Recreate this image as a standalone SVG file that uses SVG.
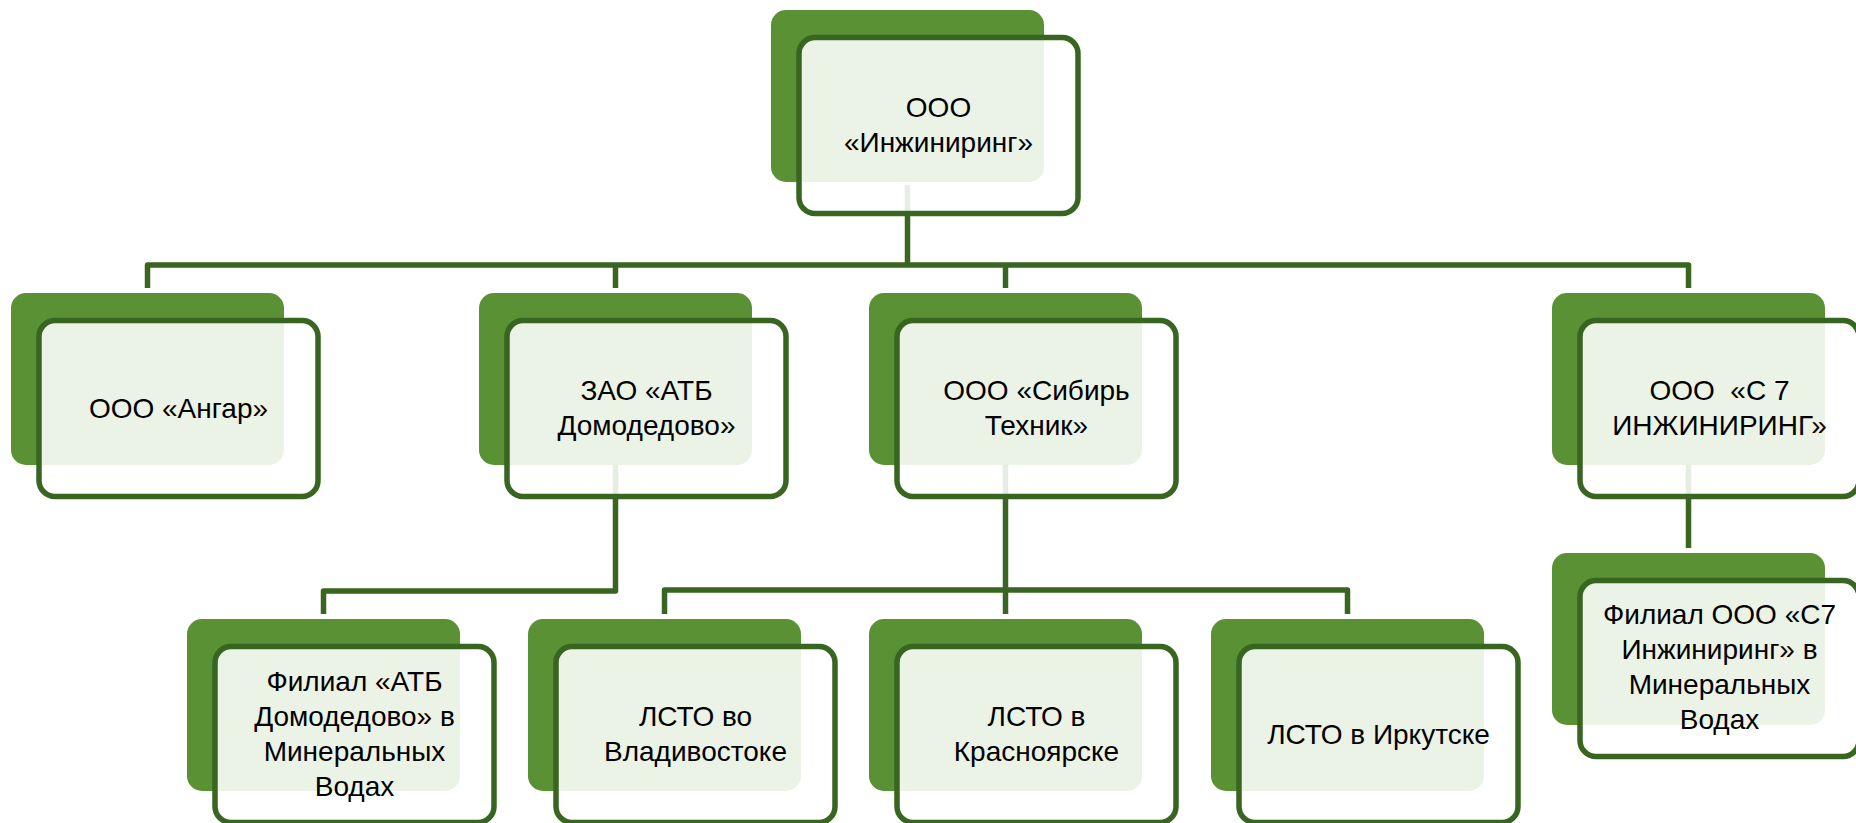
<svg xmlns="http://www.w3.org/2000/svg" width="1856" height="823" viewBox="0 0 1856 823">
<style>
.bg{fill:#5A9134}
.fr{fill:#FFFFFF;fill-opacity:0.88;stroke:#386621;stroke-width:5.5}
.t{font-family:"Liberation Sans",Arial,sans-serif;font-size:28px;fill:#000;text-anchor:middle}
.c{fill:none;stroke:#386621;stroke-width:5.5;stroke-linejoin:round}
</style>
<rect width="1856" height="823" fill="#FFFFFF"/>
<g id="connectors">
<path class="c" d="M907.5 185 V265"/>
<path class="c" d="M147.5 288 V265 H1688.5 V288"/>
<path class="c" d="M615.5 265 V288"/>
<path class="c" d="M1005.5 265 V288"/>
<path class="c" d="M615.5 465 V591 H323.5 V614"/>
<path class="c" d="M1005.5 465 V614"/>
<path class="c" d="M664.5 614 V590 H1347.5 V614"/>
<path class="c" d="M1688.5 465 V548"/>
</g>
<g id="n0">
<rect class="bg" x="771" y="10" width="273" height="172" rx="15"/>
<rect class="fr" x="799" y="37.5" width="279" height="176" rx="16"/>
<text class="t" x="938.5" y="117">ООО</text>
<text class="t" x="938.5" y="152">«Инжиниринг»</text>
</g>
<g id="n1">
<rect class="bg" x="11" y="293" width="273" height="172" rx="15"/>
<rect class="fr" x="39" y="320.5" width="279" height="176" rx="16"/>
<text class="t" x="178.5" y="417.5">ООО «Ангар»</text>
</g>
<g id="n2">
<rect class="bg" x="479" y="293" width="273" height="172" rx="15"/>
<rect class="fr" x="507" y="320.5" width="279" height="176" rx="16"/>
<text class="t" x="646.5" y="400">ЗАО «АТБ</text>
<text class="t" x="646.5" y="435">Домодедово»</text>
</g>
<g id="n3">
<rect class="bg" x="869" y="293" width="273" height="172" rx="15"/>
<rect class="fr" x="897" y="320.5" width="279" height="176" rx="16"/>
<text class="t" x="1036.5" y="400">ООО «Сибирь</text>
<text class="t" x="1036.5" y="435">Техник»</text>
</g>
<g id="n4">
<rect class="bg" x="1552" y="293" width="273" height="172" rx="15"/>
<rect class="fr" x="1580" y="320.5" width="279" height="176" rx="16"/>
<text class="t" x="1719.5" y="400" style="white-space:pre" xml:space="preserve">ООО  «С 7</text>
<text class="t" x="1719.5" y="435">ИНЖИНИРИНГ»</text>
</g>
<g id="n5">
<rect class="bg" x="187" y="619" width="273" height="172" rx="15"/>
<rect class="fr" x="215" y="646.5" width="279" height="176" rx="16"/>
<text class="t" x="354.5" y="690.5">Филиал «АТБ</text>
<text class="t" x="354.5" y="725.5">Домодедово» в</text>
<text class="t" x="354.5" y="760.5">Минеральных</text>
<text class="t" x="354.5" y="795.5">Водах</text>
</g>
<g id="n6">
<rect class="bg" x="528" y="619" width="273" height="172" rx="15"/>
<rect class="fr" x="556" y="646.5" width="279" height="176" rx="16"/>
<text class="t" x="695.5" y="726">ЛСТО во</text>
<text class="t" x="695.5" y="761">Владивостоке</text>
</g>
<g id="n7">
<rect class="bg" x="869" y="619" width="273" height="172" rx="15"/>
<rect class="fr" x="897" y="646.5" width="279" height="176" rx="16"/>
<text class="t" x="1036.5" y="726">ЛСТО в</text>
<text class="t" x="1036.5" y="761">Красноярске</text>
</g>
<g id="n8">
<rect class="bg" x="1211" y="619" width="273" height="172" rx="15"/>
<rect class="fr" x="1239" y="646.5" width="279" height="176" rx="16"/>
<text class="t" x="1378.5" y="743.5">ЛСТО в Иркутске</text>
</g>
<g id="n9">
<rect class="bg" x="1552" y="553" width="273" height="172" rx="15"/>
<rect class="fr" x="1580" y="580.5" width="279" height="176" rx="16"/>
<text class="t" x="1719.5" y="623.5">Филиал ООО «С7</text>
<text class="t" x="1719.5" y="658.5">Инжиниринг» в</text>
<text class="t" x="1719.5" y="693.5">Минеральных</text>
<text class="t" x="1719.5" y="728.5">Водах</text>
</g>
</svg>
